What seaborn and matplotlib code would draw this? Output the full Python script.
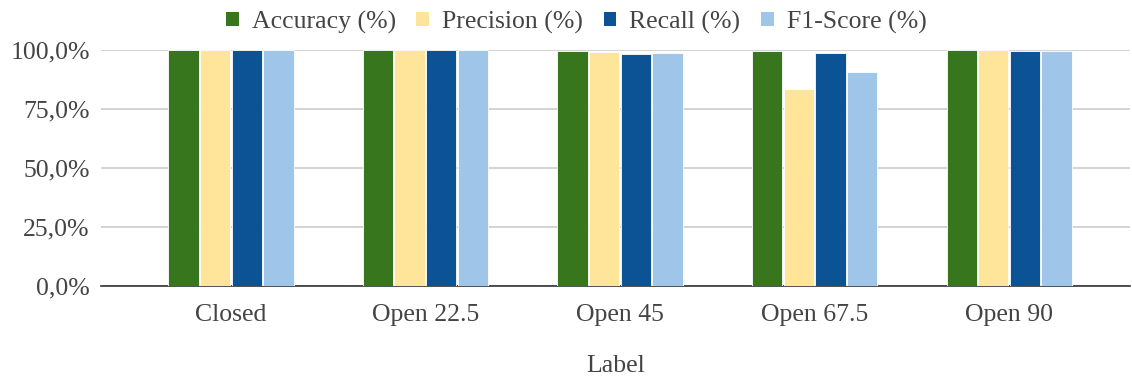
import matplotlib
matplotlib.use("Agg")
import matplotlib.pyplot as plt
import seaborn as sns
import pandas as pd
from matplotlib.patches import Patch
from matplotlib.ticker import FuncFormatter

labels = ["Closed", "Open 22.5", "Open 45", "Open 67.5", "Open 90"]
metrics = ["Accuracy (%)", "Precision (%)", "Recall (%)", "F1-Score (%)"]
accuracy = [100.0, 100.0, 99.7, 99.7, 99.8]
precision = [100.0, 100.0, 99.2, 83.6, 100.0]
recall = [100.0, 100.0, 98.2, 98.7, 99.4]
f1_score = [100.0, 100.0, 98.7, 90.5, 99.7]
colors = ["#38761d", "#ffe599", "#0b5394", "#9fc5e8"]

rows = []
for name, vals in zip(metrics, [accuracy, precision, recall, f1_score]):
    for lab, v in zip(labels, vals):
        rows.append({"Label": lab, "Metric": name, "Value": v})
df = pd.DataFrame(rows)

sns.set_theme(style="white")
plt.rcParams["font.family"] = ["Liberation Serif", "DejaVu Serif"]
text_color = "#444444"
fs = 18.5

fig = plt.figure(figsize=(11.32, 3.81), dpi=100)
ax = fig.add_axes([0.0892, 0.2493, 0.9088, 0.6195])

sns.barplot(data=df, x="Label", y="Value", hue="Metric", order=labels,
            hue_order=metrics, palette=colors, saturation=1, width=0.65, gap=0.04,
            edgecolor="white", linewidth=0.6, legend=False, ax=ax, zorder=3)

ax.set_ylim(0, 100)
ax.set_xlim(-0.668, 4.62)
ax.set_yticks([0, 25, 50, 75, 100])
ax.yaxis.set_major_formatter(FuncFormatter(lambda v, p: f"{v:.1f}".replace(".", ",") + "%"))
ax.grid(axis="y", color="#cccccc", linewidth=1.2, zorder=0)
ax.set_axisbelow(True)
for s in ["top", "right", "left"]:
    ax.spines[s].set_visible(False)
ax.spines["bottom"].set_color("#333333")
ax.spines["bottom"].set_linewidth(1.2)
ax.tick_params(axis="both", length=0, labelsize=fs, colors=text_color)
ax.tick_params(axis="x", pad=13)
ax.tick_params(axis="y", pad=8)
ax.set_ylabel("")
ax.set_xlabel("Label", fontsize=fs, color=text_color, labelpad=21)

handles = [Patch(facecolor=c, edgecolor="none") for c in colors]
fig.legend(handles, metrics, loc="center", bbox_to_anchor=(0.509, 0.942), ncol=4,
           frameon=False, fontsize=fs, labelcolor=text_color,
           handlelength=0.5, handleheight=0.5, handletextpad=0.5,
           columnspacing=0.8)

fig.savefig("out.png", dpi=100)
